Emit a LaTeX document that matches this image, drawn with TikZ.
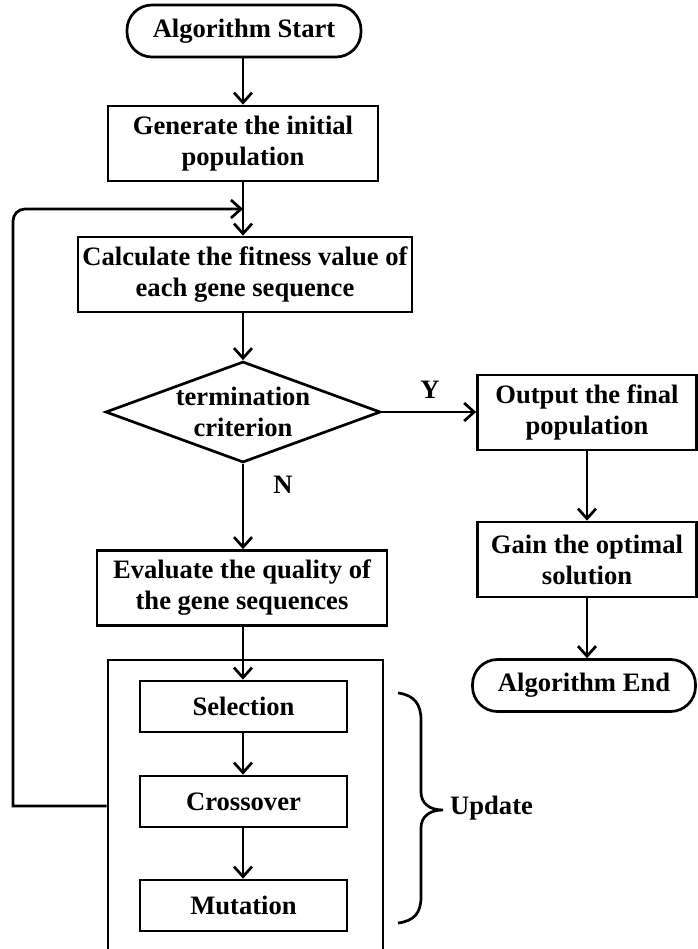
\documentclass[tikz,border=0pt]{standalone}
\usepackage{fontspec}
\setmainfont{Liberation Serif}
\usetikzlibrary{arrows.meta,shapes.geometric}
\begin{document}
\begin{tikzpicture}[x=1pt,y=-1pt,
  every node/.style={font=\fontsize{26.6}{31}\selectfont\bfseries, align=center},
  box/.style={draw, line width=2.7pt, inner sep=0pt, minimum height=75pt},
  smallbox/.style={draw, line width=2.7pt, inner sep=0pt, minimum height=51pt, minimum width=207pt},
  term/.style={draw, line width=2.7pt, inner sep=0pt, rounded corners=25pt, minimum height=52pt},
  conn/.style={line width=2.7pt, -{Straight Barb[length=10pt,width=18pt,line width=2.7pt]}},
  plain/.style={line width=2.7pt},
  lbl/.style={inner sep=0pt}]
\useasboundingbox (0,0) rectangle (697,949);
\node[term, minimum width=234pt] (start) at (244,31) {Algorithm Start};
\node[box, minimum width=270pt] (gen) at (243,143.5) {Generate the initial\\population};
\node[box, minimum width=334pt] (calc) at (245,274.5) {Calculate the fitness value of\\each gene sequence};
\node[diamond, draw, line width=2.7pt, inner sep=0pt, aspect=2.72, minimum width=275pt, minimum height=101pt] (dia) at (243,412) {};
\node[lbl] (diatext) at (dia.center) {termination\\criterion};
\node[box, minimum width=219pt] (out) at (587,412.5) {Output the final\\population};
\node[box, minimum width=219pt] (gain) at (587,559.5) {Gain the optimal\\solution};
\node[term, minimum width=223pt] (end) at (584,685.5) {Algorithm End};
\node[box, minimum width=290pt] (eval) at (242,588) {Evaluate the quality of\\the gene sequences};
\node[draw, line width=2.7pt, inner sep=0pt, minimum width=275pt, minimum height=300pt] (big) at (245.5,810) {};
\node[smallbox] (sel) at (243.5,706.5) {Selection};
\node[smallbox] (cross) at (243.5,801.5) {Crossover};
\node[smallbox] (mut) at (243.5,905.5) {Mutation};
\node[lbl] (ylbl) at (430,390) {Y};
\node[lbl] (nlbl) at (283,485) {N};
\node[lbl, anchor=west] (upd) at (450,808) {Update};
\coordinate (join) at (243,209);
% connectors
\draw[conn] (start.south -| 243,0) -- (gen.north -| 243,0);
\draw[plain] (gen.south -| 243,0) -- (join);
\draw[conn] (join) -- (calc.north -| 243,0);
\draw[conn] (calc.south -| 243,0) -- (dia.north);
\draw[conn] (dia.east) -- (out.west |- dia.east);
\draw[conn] (dia.south) -- (eval.north -| dia.south);
\draw[conn] (out.south) -- (gain.north);
\draw[conn] (gain.south) -- (end.north -| gain.south);
\draw[conn] (eval.south -| 243,0) -- (sel.north -| 243,0);
\draw[conn] (sel.south -| 243,0) -- (cross.north -| 243,0);
\draw[conn] (cross.south -| 243,0) -- (mut.north -| 243,0);
\draw[conn] (big.west |- 0,806) -- (13,806) [rounded corners=12pt] -- (13,209) -- (join);
% brace
\draw[plain] (398,693) .. controls (414,695) and (421,704) .. (421,720) -- (421,792)
  .. controls (421,803) and (429,810) .. (443,810)
  .. controls (429,810) and (421,817) .. (421,828) -- (421,897)
  .. controls (421,913) and (414,921) .. (398,923);
\end{tikzpicture}
\end{document}
